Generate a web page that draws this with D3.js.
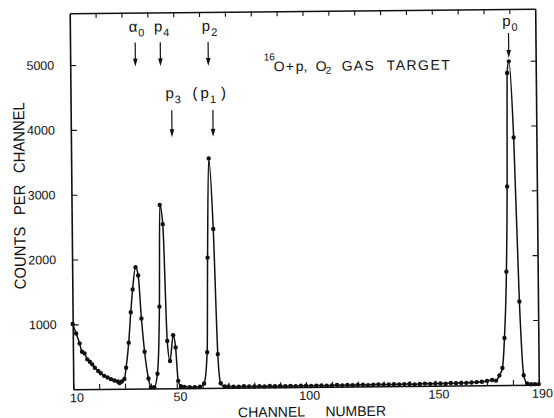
<!DOCTYPE html>
<html>
<head>
<meta charset="utf-8">
<script src="https://cdn.jsdelivr.net/npm/d3@7"></script>
<style>
  body { margin: 0; background: #fff; }
  text { font-family: "Liberation Sans", Arial, sans-serif; fill: #111; }
</style>
</head>
<body>
<script>
// readings: channel number, counts per channel
const channel = [
  10, 11.3, 12.6, 13.5, 14.5, 15.5, 16.5, 17.4, 18.4, 19.7, 20.7, 22.0, 23.3, 24.6, 25.9, 27.2, 27.9, 28.8, 29.8, 30.5,
  31.6, 32.5, 33.3, 34.5, 35.5, 36.6, 37.7, 39.1, 40.0, 41.3, 42.6, 43.6, 44.1, 45.2, 46.5, 47.5, 48.8, 49.7, 50.6, 51.6,
  53, 55, 57, 59, 60.6, 61.9, 62.4, 63.2, 64.7, 66.0, 67.0, 68.5,
  70, 72, 74, 76, 78, 80, 82, 84, 86, 88, 90, 92, 94, 96, 98, 100, 102, 104, 106, 108,
  110, 112, 114, 116, 118, 120, 122, 124, 126, 128, 130, 132, 134, 136, 138, 140, 142, 144, 146, 148,
  150, 152, 154, 156, 158, 160, 162, 164, 166, 168, 170, 172,
  173.5, 174.8, 176.0, 176.9, 177.9, 178.5, 178.9, 179.6, 181.2, 182.8, 184.2, 185.5, 187, 188.5, 190
];
const counts = [
  1005, 860, 706, 576, 551, 459, 422, 381, 329, 278, 242, 201, 175, 150, 128, 113, 88, 113, 150, 325,
  710, 1178, 1529, 1873, 1745, 1081, 567, 154, 20, 20, 227, 1262, 2831, 2533, 730, 422, 818, 630, 113, 30,
  20, 15, 15, 20, 70, 550, 2010, 3540, 2450, 520, 70, 20,
  20, 15, 15, 20, 15, 15, 20, 15, 20, 15, 20, 15, 20, 15, 20, 20, 15, 20, 20, 15,
  20, 25, 20, 25, 20, 25, 25, 20, 25, 30, 25, 25, 30, 25, 30, 30, 25, 30, 35, 30,
  35, 35, 30, 40, 35, 40, 40, 45, 50, 55, 65, 80,
  70, 150, 263, 726, 1750, 3063, 4814, 4993, 3819, 1286, 150, 20, 10, 10, 10
];

const xLabels = [10, 50, 100, 150, 190];
const xMinor = [20, 30, 40, 50, 60, 70, 80, 90, 100, 110, 120, 130, 140, 150, 160, 170, 180];
const yLabels = [1000, 2000, 3000, 4000, 5000];

// peak markers
const peakName = ["α", "p", "p", "p", "p", "p"];
const peakSub = ["0", "4", "2", "3", "1", "0"];
const peakChannel = [35.2, 44.9, 63.4, 49.1, 65.0, 179.6];
const peakRow = [0, 0, 0, 1, 1, 2];
const peakParen = [false, false, false, false, true, false];

const width = 554, height = 418;

let svg = d3.select("body").append("svg")
    .attr("width", width)
    .attr("height", height)

// the scanned figure is tilted a little
let g = svg.append("g").attr("transform", "rotate(-0.55,304,199)")

let x = d3.scaleLinear().domain([10, 190]).range([71.5, 537])
let y = d3.scaleLinear().domain([0, 5800]).range([387, 11])

function styleAxis(sel) {
    sel.select(".domain").attr("stroke", "#111").attr("stroke-width", 1.6)
    sel.selectAll(".tick line").attr("stroke", "#111").attr("stroke-width", 1.1)
    sel.selectAll("text").attr("font-size", 12.5).attr("fill", "#111")
        .attr("font-family", "\"Liberation Sans\", Arial, sans-serif")
}

g.append("g")
    .attr("transform", "translate(0,387)")
    .call(d3.axisBottom(x).tickValues([10].concat(xMinor, [190]))
        .tickSize(-5).tickSizeOuter(0).tickPadding(4)
        .tickFormat(d => xLabels.includes(d) ? d : ""))
    .call(styleAxis)
    .selectAll("text").attr("dx", 3)

g.append("g")
    .attr("transform", "translate(0,11)")
    .call(d3.axisTop(x).tickValues(xMinor).tickSize(-5).tickSizeOuter(0).tickFormat(""))
    .call(styleAxis)

g.append("g")
    .attr("transform", "translate(71.5,0)")
    .call(d3.axisLeft(y).tickValues(yLabels).tickSize(-6).tickSizeOuter(0).tickPadding(16)
        .tickFormat(d3.format("d")))
    .call(styleAxis)

g.append("g")
    .attr("transform", "translate(537,0)")
    .call(d3.axisRight(y).tickValues(yLabels).tickSize(-5).tickSizeOuter(0).tickFormat(""))
    .call(styleAxis)

// axis titles
g.append("text")
    .attr("transform", "translate(25,193) rotate(-90)")
    .attr("text-anchor", "middle")
    .attr("font-size", 16)
    .attr("word-spacing", 8)
    .attr("textLength", 187)
    .attr("lengthAdjust", "spacingAndGlyphs")
    .text("COUNTS PER CHANNEL")

g.append("text")
    .attr("x", 310).attr("y", 416.5)
    .attr("text-anchor", "middle")
    .attr("font-size", 14)
    .attr("word-spacing", 17)
    .attr("textLength", 148)
    .attr("lengthAdjust", "spacingAndGlyphs")
    .text("CHANNEL NUMBER")

// reaction title
let title = g.append("g").attr("transform", "translate(0,-1)")
title.append("text").attr("x", 265).attr("y", 61).attr("font-size", 10).text("16")
title.append("text").attr("x", 275).attr("y", 72).attr("font-size", 14).text("O")
title.append("text").attr("x", 287).attr("y", 72).attr("font-size", 14).text("+")
title.append("text").attr("x", 297).attr("y", 72).attr("font-size", 14).text("p,")
title.append("text").attr("x", 317).attr("y", 72).attr("font-size", 14).text("O")
title.append("text").attr("x", 327).attr("y", 75).attr("font-size", 10).text("2")
title.append("text").attr("x", 343).attr("y", 72).attr("font-size", 14)
    .attr("textLength", 32).attr("lengthAdjust", "spacing").text("GAS")
title.append("text").attr("x", 388).attr("y", 72).attr("font-size", 14)
    .attr("textLength", 63).attr("lengthAdjust", "spacing").text("TARGET")

// spectrum line and points
let pts = channel.map((c, i) => [c, counts[i]])

let line = d3.line()
    .x(d => x(d[0]))
    .y(d => y(d[1]))
    .curve(d3.curveMonotoneX)

g.append("path")
    .datum(pts)
    .attr("d", line)
    .attr("fill", "none")
    .attr("stroke", "#111")
    .attr("stroke-width", 1.5)

g.append("g")
    .selectAll("circle")
    .data(pts)
    .enter()
    .append("circle")
    .attr("cx", d => x(d[0]))
    .attr("cy", d => y(d[1]))
    .attr("r", 2.2)
    .attr("fill", "#111")

// arrows and labels over the peaks
const rowArrow = [[41, 65], [109, 136], [35, 60]]
const rowText = [30, 97, 28]

peakChannel.forEach((c, i) => {
    let px = x(c)
    let [y0, y1] = rowArrow[peakRow[i]]
    g.append("line")
        .attr("x1", px).attr("x2", px)
        .attr("y1", y0).attr("y2", y1 - 4)
        .attr("stroke", "#111").attr("stroke-width", 1.2)
    g.append("path")
        .attr("d", `M${px - 2.3},${y1 - 8} L${px + 2.3},${y1 - 8} L${px},${y1} Z`)
        .attr("fill", "#111")

    let t = g.append("text")
        .attr("x", peakParen[i] ? px - 3.5 : px + 1.5)
        .attr("y", rowText[peakRow[i]])
        .attr("text-anchor", "middle")
        .attr("font-size", 15)
    if (peakParen[i]) t.append("tspan").text("(")
    t.append("tspan").attr("dx", peakParen[i] ? 3 : 0).text(peakName[i])
    t.append("tspan").attr("font-size", 11).attr("dy", 5).attr("dx", 1).text(peakSub[i])
    if (peakParen[i]) t.append("tspan").attr("dy", -5).attr("dx", 5).text(")")
})
</script>
</body>
</html>
